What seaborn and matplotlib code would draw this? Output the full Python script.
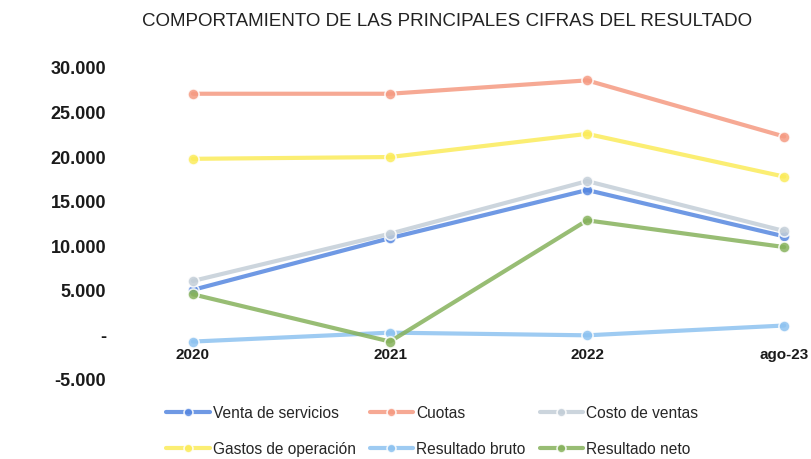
import pandas as pd
import seaborn as sns
import matplotlib.pyplot as plt
from matplotlib.ticker import FuncFormatter

# --- data ---
periods = ["2020", "2021", "2022", "ago-23"]
venta_servicios = [5000, 10800, 16200, 11000]
cuotas = [27000, 27000, 28500, 22200]
costo_ventas = [6000, 11300, 17200, 11600]
gastos_operacion = [19700, 19900, 22500, 17700]
resultado_bruto = [-800, 200, -100, 1000]
resultado_neto = [4500, -800, 12800, 9800]

series = {
    "Venta de servicios": venta_servicios,
    "Cuotas": cuotas,
    "Costo de ventas": costo_ventas,
    "Gastos de operación": gastos_operacion,
    "Resultado bruto": resultado_bruto,
    "Resultado neto": resultado_neto,
}
colors = {
    "Venta de servicios": "#5687e0",
    "Cuotas": "#f59a82",
    "Costo de ventas": "#c3ced8",
    "Gastos de operación": "#fbeb5a",
    "Resultado bruto": "#8dc2f0",
    "Resultado neto": "#86b25c",
}

rows = []
for name, vals in series.items():
    for p, v in zip(periods, vals):
        rows.append({"periodo": p, "valor": v, "serie": name})
df = pd.DataFrame(rows)

sns.set_style("white")
plt.rcParams['font.family'] = ['Liberation Sans', 'DejaVu Sans']

fig = plt.figure(figsize=(8.12, 4.6), dpi=100)
ax = fig.add_axes([120 / 812, 1 - 380 / 460, 680 / 812, 312 / 460])

sns.lineplot(data=df, x="periodo", y="valor", hue="serie", palette=colors,
             hue_order=list(series.keys()), sort=False, marker="o",
             markersize=8, linewidth=3, alpha=0.85, markeredgewidth=1.2,
             ax=ax, legend=True)

ax.set_ylim(-5000, 30000)
ax.set_xlim(-0.37, 3.08)
ax.set_yticks(range(-5000, 30001, 5000))
ax.yaxis.set_major_formatter(FuncFormatter(
    lambda v, _: "-" if v == 0 else f"{int(v):,}".replace(",", ".")))
for s in ["top", "right", "left"]:
    ax.spines[s].set_visible(False)
ax.spines["bottom"].set_position(("data", 0))
ax.spines["bottom"].set_visible(False)
ax.tick_params(axis="y", length=0, labelsize=13, pad=10)
ax.tick_params(axis="x", length=0, labelsize=11, pad=9)
for lab in ax.get_yticklabels() + ax.get_xticklabels():
    lab.set_fontweight("bold")
    lab.set_color("#1a1a1a")
ax.set_xlabel("")
ax.set_ylabel("")

# legend: 2 rows x 3 cols, row-major order as in the reference
handles, labels = ax.get_legend_handles_labels()
lookup = dict(zip(labels, handles))
order = ["Venta de servicios", "Gastos de operación", "Cuotas",
         "Resultado bruto", "Costo de ventas", "Resultado neto"]
ax.get_legend().remove()
fig.legend([lookup[k] for k in order], order, ncol=3, frameon=False,
           loc="lower left", bbox_to_anchor=(152 / 812, -0.025),
           fontsize=11.2, handlelength=2.8, handletextpad=0.2,
           columnspacing=0.9, labelspacing=1.35, markerscale=0.8)

fig.text(447 / 812, 1 - 22 / 460, "COMPORTAMIENTO DE LAS PRINCIPALES CIFRAS DEL RESULTADO",
         ha="center", va="center", fontsize=13.5, color="#222222")

fig.savefig("out.png", dpi=100)
